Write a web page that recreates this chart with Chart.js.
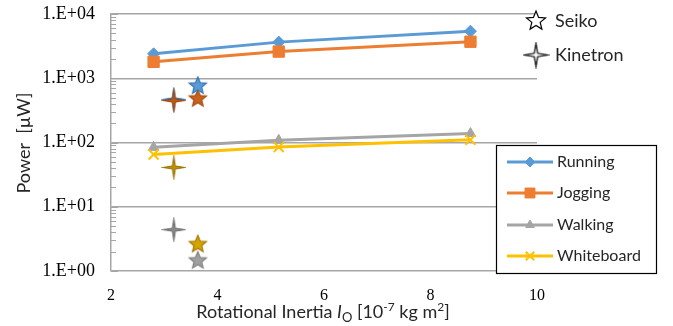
<!DOCTYPE html>
<html>
<head>
<meta charset="utf-8">
<script src="https://cdn.jsdelivr.net/npm/chart.js@4"></script>
<style>
  html, body { margin: 0; padding: 0; background: #fff; }
  #wrap { width: 673px; height: 326px; }
</style>
</head>
<body>
<div id="wrap"><canvas id="chart" width="673" height="326"></canvas></div>
<script>
// inertia values [10^-7 kg m^2]
const inertia = [2.8, 5.15, 8.75];
const running = [2400, 3650, 5400];
const jogging = [1800, 2600, 3700];
const walking = [84, 108, 138];
const whiteboard = [65, 85, 110];

// commercial harvesters
const seikoX = 3.63;
const kinetronX = 3.18;
const seiko = { running: 760, jogging: 480, walking: 1.45, whiteboard: 2.6 };
const kinetron = { running: 470, jogging: 450, walking: 4.4, whiteboard: 41 };

const seriesNames = ["Running", "Jogging", "Walking", "Whiteboard"];
const seriesColors = ["#5B9BD5", "#ED7D31", "#A5A5A5", "#FFC000"];
const yTickValues = [1, 10, 100, 1000, 10000];
const xTickValues = [2, 4, 6, 8, 10];

function makeStar(points, outer, inner, fill, stroke) {
  const c = document.createElement("canvas");
  const s = Math.ceil(outer * 2 + 4);
  c.width = s;
  c.height = s;
  const ctx = c.getContext("2d");
  ctx.translate(s / 2, s / 2);
  ctx.beginPath();
  for (let i = 0; i < points * 2; i++) {
    const r = i % 2 === 0 ? outer : inner;
    const a = -Math.PI / 2 + (i * Math.PI) / points;
    ctx.lineTo(r * Math.cos(a), r * Math.sin(a));
  }
  ctx.closePath();
  ctx.fillStyle = fill;
  ctx.fill();
  ctx.lineWidth = 1.2;
  ctx.strokeStyle = stroke;
  ctx.stroke();
  return c;
}

const seikoStar = (fill, stroke) => makeStar(5, 9, 4, fill, stroke);
const kinetronStar = (fill, stroke) => makeStar(4, 10.5, 2, fill, stroke);

function lineSet(i, values, style, radius) {
  return {
    label: seriesNames[i],
    data: inertia.map((x, k) => ({ x: x, y: values[k] })),
    showLine: true,
    borderColor: seriesColors[i],
    backgroundColor: seriesColors[i],
    borderWidth: 3,
    pointStyle: style,
    pointRadius: radius,
    pointBorderWidth: style === "crossRot" ? 2 : 1,
    order: 10 - i,
  };
}

function starSet(label, x, y, img, order) {
  return {
    label: label,
    data: [{ x: x, y: y }],
    pointStyle: img,
    showLine: false,
    order: order,
  };
}

const datasets = [
  lineSet(0, running, "rectRot", 6),
  lineSet(1, jogging, "rect", 8),
  lineSet(2, walking, "triangle", 6),
  lineSet(3, whiteboard, "crossRot", 7),
  starSet("Seiko Running", seikoX, seiko.running, seikoStar("#5B9BD5", "#2E75B6"), 2),
  starSet("Seiko Jogging", seikoX, seiko.jogging, seikoStar("#C8621F", "#A04A10"), 2),
  starSet("Seiko Walking", seikoX, seiko.walking, seikoStar("#A0A0A0", "#7F7F7F"), 2),
  starSet("Seiko Whiteboard", seikoX, seiko.whiteboard, seikoStar("#D9A400", "#A07800"), 2),
  starSet("Kinetron Running", kinetronX, kinetron.running, kinetronStar("#3E7CC0", "#2E75B6"), 3),
  starSet("Kinetron Jogging", kinetronX, kinetron.jogging, kinetronStar("#C55A11", "#A04A10"), 1),
  starSet("Kinetron Walking", kinetronX, kinetron.walking, kinetronStar("#8C8C8C", "#6E6E6E"), 2),
  starSet("Kinetron Whiteboard", kinetronX, kinetron.whiteboard, kinetronStar("#C49300", "#9A7400"), 2),
];

// minor tick marks inside the y axis, axis titles and both legends
const decorPlugin = {
  id: "decor",
  afterDraw(chart) {
    const ctx = chart.ctx;
    const yScale = chart.scales.y;
    const area = chart.chartArea;
    ctx.save();

    // inner ticks
    ctx.strokeStyle = "#A6A6A6";
    ctx.lineWidth = 1;
    for (let d = 1; d < 10000; d *= 10) {
      for (let m = 1; m <= 10; m++) {
        const y = Math.round(yScale.getPixelForValue(d * m)) + 0.5;
        ctx.beginPath();
        ctx.moveTo(area.left, y);
        ctx.lineTo(area.left + (m === 1 || m === 10 ? 7 : 5), y);
        ctx.stroke();
      }
    }

    // y title
    ctx.fillStyle = "#262626";
    ctx.font = "18px Lato";
    ctx.textAlign = "center";
    ctx.textBaseline = "middle";
    ctx.save();
    ctx.translate(24, 143);
    ctx.rotate(-Math.PI / 2);
    ctx.fillText("Power  [\u00b5W]", 0, 0);
    ctx.restore();

    // x title with italic symbol, subscript and superscripts
    const parts = [
      { t: "Rotational Inertia ", f: "18px Lato", dy: 0 },
      { t: "I", f: "italic 18px Lato", dy: 0 },
      { t: "O", f: "13px Lato", dy: 4 },
      { t: " [10", f: "18px Lato", dy: 0 },
      { t: "-7", f: "12px Lato", dy: -7 },
      { t: " kg m", f: "18px Lato", dy: 0 },
      { t: "2", f: "12px Lato", dy: -7 },
      { t: "]", f: "18px Lato", dy: 0 },
    ];
    let total = 0;
    parts.forEach((p) => {
      ctx.font = p.f;
      p.w = ctx.measureText(p.t).width;
      total += p.w;
    });
    let px = 323 - total / 2;
    ctx.textAlign = "left";
    ctx.textBaseline = "alphabetic";
    parts.forEach((p) => {
      ctx.font = p.f;
      ctx.fillText(p.t, px, 318 + p.dy);
      px += p.w;
    });

    // series legend
    const lx = 496.5, ly = 145.5, lw = 160, lh = 128;
    ctx.fillStyle = "#fff";
    ctx.fillRect(lx, ly, lw, lh);
    ctx.strokeStyle = "#000";
    ctx.lineWidth = 1.2;
    ctx.strokeRect(lx, ly, lw, lh);
    const rows = [162, 193, 225, 256];
    datasets.slice(0, 4).forEach((ds, i) => {
      const y = rows[i];
      ctx.strokeStyle = ds.borderColor;
      ctx.fillStyle = ds.backgroundColor;
      ctx.lineWidth = 3;
      ctx.beginPath();
      ctx.moveTo(507, y);
      ctx.lineTo(553, y);
      ctx.stroke();
      ctx.lineWidth = ds.pointBorderWidth;
      Chart.helpers.drawPoint(ctx, {
        pointStyle: ds.pointStyle,
        radius: ds.pointRadius - 1,
        borderWidth: ds.pointBorderWidth,
        rotation: 0,
      }, 530, y);
      ctx.fillStyle = "#262626";
      ctx.font = "16px Lato";
      ctx.textBaseline = "middle";
      ctx.fillText(ds.label, 557, y);
    });

    // harvester legend
    const s1 = makeStar(5, 10, 4.4, "#fff", "#000");
    const s2 = makeStar(4, 11.5, 2.4, "#fff", "#000");
    ctx.drawImage(s1, 536 - s1.width / 2, 21 - s1.height / 2);
    ctx.drawImage(s2, 536 - s2.width / 2, 55 - s2.height / 2);
    ctx.fillStyle = "#262626";
    ctx.font = "18px Lato";
    ctx.fillText("Seiko", 555, 21);
    ctx.fillText("Kinetron", 555, 55);

    ctx.restore();
  },
};

new Chart(document.getElementById("chart"), {
  type: "scatter",
  data: { datasets: datasets },
  options: {
    responsive: false,
    animation: false,
    layout: { padding: { top: 14, right: 136, left: 0, bottom: 0 } },
    plugins: {
      legend: { display: false },
      tooltip: { enabled: false },
    },
    scales: {
      x: {
        type: "linear",
        min: 2,
        max: 10,
        afterBuildTicks: (scale) => {
          scale.ticks = xTickValues.map((v) => ({ value: v }));
        },
        afterFit: (scale) => { scale.height = 55; },
        grid: { display: false, drawTicks: false },
        border: { display: false },
        ticks: {
          padding: 15,
          color: "#000",
          font: { family: "Liberation Serif", size: 16 },
        },
      },
      y: {
        type: "logarithmic",
        min: 1,
        max: 10000,
        afterBuildTicks: (scale) => {
          scale.ticks = yTickValues.map((v) => ({ value: v }));
        },
        afterFit: (scale) => { scale.width = 111; },
        grid: {
          color: "#A6A6A6",
          lineWidth: 1.5,
          drawTicks: true,
          tickLength: 16,
          tickColor: "rgba(0,0,0,0)",
        },
        border: { display: true, color: "#A6A6A6", width: 1.5 },
        ticks: {
          padding: 0,
          color: "#000",
          font: { family: "Liberation Serif", size: 18 },
          callback: (v) => "1.E+0" + Math.round(Math.log10(v)),
        },
      },
    },
  },
  plugins: [decorPlugin],
});
</script>
</body>
</html>
